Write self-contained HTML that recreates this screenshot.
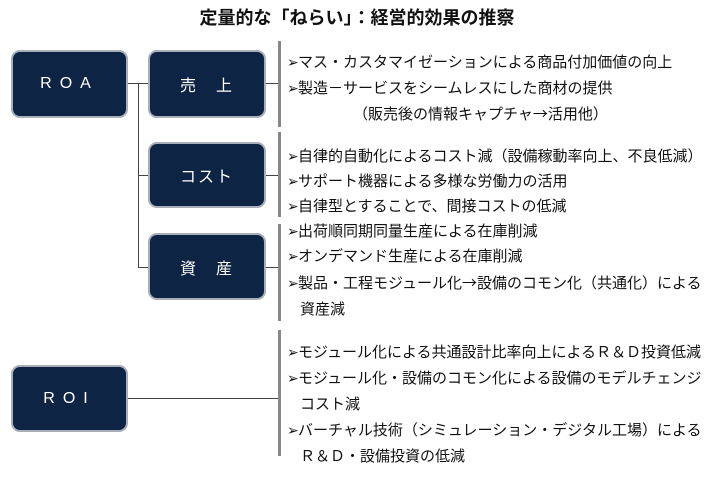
<!DOCTYPE html>
<html><head><meta charset="utf-8"><style>
body{margin:0;width:720px;height:498px;background:#fff;position:relative;overflow:hidden;font-family:"Liberation Sans","Noto Sans CJK JP",sans-serif;color:#111}
.t{position:absolute;left:0;width:714px;top:4px;text-align:center;font-size:18px;font-weight:bold;font-family:"Noto Sans CJK JP",sans-serif}
.b{position:absolute;background:#0e2444;border:2px solid #a8afb8;border-radius:9px;color:#fff;font-size:16px;display:flex;align-items:center;justify-content:center;box-sizing:border-box;letter-spacing:2px}
.h{position:absolute;height:1px;background:#444}
.v{position:absolute;width:1px;background:#444}
.br{position:absolute;width:3px;background:#888;left:278px}
.l{position:absolute;left:287px;font-size:15px;white-space:nowrap;line-height:18px;font-family:"Noto Sans CJK JP",sans-serif}
.a{display:inline-block;width:11px;font-size:14px;font-family:"DejaVu Sans",sans-serif}
</style></head><body>
<div class="t">定量的な「ねらい」：経営的効果の推察</div>
<div class="b" style="left:11px;top:50px;width:117px;height:68px;letter-spacing:8px">ROA</div>
<div class="b" style="left:148px;top:50px;width:118px;height:68px">売　上</div>
<div class="b" style="left:148px;top:142px;width:118px;height:66px">コスト</div>
<div class="b" style="left:148px;top:233px;width:118px;height:67px">資　産</div>
<div class="b" style="left:11px;top:365px;width:117px;height:67px;letter-spacing:8px">ROI</div>
<div class="h" style="left:128px;top:83px;width:20px"></div>
<div class="v" style="left:138px;top:83px;height:184px"></div>
<div class="h" style="left:138px;top:175px;width:10px"></div>
<div class="h" style="left:138px;top:267px;width:10px"></div>
<div class="h" style="left:266px;top:83px;width:13px"></div>
<div class="h" style="left:266px;top:175px;width:13px"></div>
<div class="h" style="left:266px;top:267px;width:13px"></div>
<div class="h" style="left:128px;top:398px;width:151px"></div>
<div class="br" style="top:41px;height:86px"></div>
<div class="br" style="top:132px;height:85px"></div>
<div class="br" style="top:224px;height:97px"></div>
<div class="br" style="top:330px;height:126px"></div>
<div class="l" style="top:53px"><span class="a">➢</span>マス・カスタマイゼーションによる商品付加価値の向上</div>
<div class="l" style="top:79px"><span class="a">➢</span>製造－サービスをシームレスにした商材の提供</div>
<div class="l" style="top:105px;left:353px">（販売後の情報キャプチャ→活用他）</div>
<div class="l" style="top:147px"><span class="a">➢</span>自律的自動化によるコスト減（設備稼動率向上、不良低減）</div>
<div class="l" style="top:172px"><span class="a">➢</span>サポート機器による多様な労働力の活用</div>
<div class="l" style="top:197px"><span class="a">➢</span>自律型とすることで、間接コストの低減</div>
<div class="l" style="top:222px"><span class="a">➢</span>出荷順同期同量生産による在庫削減</div>
<div class="l" style="top:247px"><span class="a">➢</span>オンデマンド生産による在庫削減</div>
<div class="l" style="top:274px"><span class="a">➢</span>製品・工程モジュール化→設備のコモン化（共通化）による</div>
<div class="l" style="top:300px;left:300px">資産減</div>
<div class="l" style="top:343px"><span class="a">➢</span>モジュール化による共通設計比率向上によるＲ＆Ｄ投資低減</div>
<div class="l" style="top:369px"><span class="a">➢</span>モジュール化・設備のコモン化による設備のモデルチェンジ</div>
<div class="l" style="top:395px;left:300px">コスト減</div>
<div class="l" style="top:421px"><span class="a">➢</span>バーチャル技術（シミュレーション・デジタル工場）による</div>
<div class="l" style="top:447px;left:300px">Ｒ＆Ｄ・設備投資の低減</div>
</body></html>
